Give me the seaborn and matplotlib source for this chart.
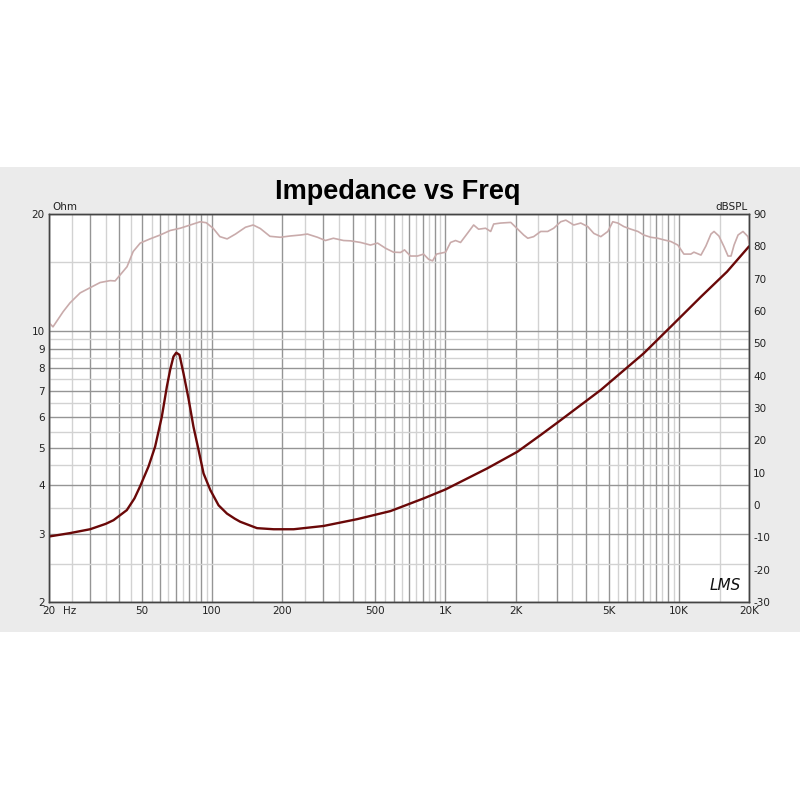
import numpy as np
import pandas as pd
import matplotlib
matplotlib.use('Agg')
import matplotlib.pyplot as plt
from matplotlib.patches import Rectangle
from matplotlib.ticker import FixedLocator, FuncFormatter, NullFormatter
import seaborn as sns

# --- data ---
imp_freq = [20, 24.6, 30, 35, 37.8, 43.1, 46.5, 49.2, 53.4, 57.0, 60.9, 64.0,
            66.1, 68.3, 70.2, 72.5, 75.4, 79.2, 83.2, 87.5, 91.9, 98.2,
            106.6, 115.8, 125, 132, 155.8, 183.6, 223.7, 300, 418.5, 581, 808,
            1000, 1511, 2036, 2561, 3020, 4634, 7080, 9247, 12450, 16100, 20000]
imp_ohm = [2.95, 3.01, 3.08, 3.18, 3.25, 3.45, 3.7, 3.98, 4.47, 5.03, 6.01, 7.18,
           7.93, 8.58, 8.78, 8.67, 7.77, 6.7, 5.66, 4.93, 4.29, 3.89,
           3.55, 3.38, 3.28, 3.22, 3.10, 3.08, 3.08, 3.14, 3.27, 3.43, 3.70,
           3.90, 4.42, 4.88, 5.39, 5.8, 7.04, 8.75, 10.25, 12.24, 14.2, 16.5]

spl_freq = [20, 20.8, 23, 24.6, 27.2, 30, 33.1, 36.6, 38.4, 40.3, 43.2, 45.9,
            49.2, 54.2, 59.9, 66.1, 73, 80.6, 88.9, 94.4, 101, 108, 116, 126,
            139, 150, 161, 177, 196, 216, 239, 256, 283, 306, 331, 366, 392,
            433, 477, 512, 554, 599, 642, 668, 708, 759, 806, 847, 881, 916,
            1002, 1052, 1105, 1161, 1245, 1321, 1387, 1486, 1563, 1610, 1725,
            1906, 2042, 2165, 2254, 2389, 2560, 2743, 2911, 3120, 3281, 3548,
            3802, 4074, 4325, 4634, 4966, 5213, 5482, 5821, 6237, 6683, 7080,
            7587, 8130, 8630, 9247, 9908, 10520, 11270, 11610, 12450, 13070,
            13740, 14160, 14860, 15630, 16260, 16750, 17260, 17950, 18850,
            19800, 20000]
spl_db = [56.4, 55.1, 59.8, 62.5, 65.6, 67.2, 68.8, 69.4, 69.3, 71.1, 73.7, 78.4,
          81, 82.3, 83.5, 84.9, 85.6, 86.6, 87.6, 87.3, 85.6, 83, 82.3, 83.8,
          85.9, 86.6, 85.5, 83.1, 82.8, 83.2, 83.5, 83.8, 82.8, 81.8, 82.5,
          81.8, 81.7, 81.2, 80.4, 81, 79.4, 78.2, 78.1, 78.9, 77, 77, 77.6,
          76, 75.5, 77.6, 78.2, 81.2, 81.8, 81.2, 84.1, 86.6, 85.3, 85.6, 84.6,
          86.9, 87.2, 87.4, 85.3, 83.5, 82.5, 83, 84.6, 84.6, 85.6, 87.6, 88.1,
          86.6, 87.2, 86.1, 84, 83, 84.6, 87.6, 87.2, 86.1, 85.3, 84.6, 83.5,
          82.8, 82.5, 82, 81.5, 80.4, 77.6, 77.6, 78.2, 77.3, 80.1, 83.8, 84.6,
          83.2, 79.9, 77, 77, 80.4, 83.5, 84.6, 83, 81]

x_labels = {20: '20', 50: '50', 100: '100', 200: '200', 500: '500',
            1000: '1K', 2000: '2K', 5000: '5K', 10000: '10K', 20000: '20K'}
ohm_ticks = [2, 3, 4, 5, 6, 7, 8, 9, 10, 20]
db_ticks = list(range(-30, 100, 10))

# grid positions
x_dark = ([f for f in range(20, 101, 10)] + [f for f in range(200, 1001, 100)]
          + [f for f in range(2000, 10001, 1000)] + [20000])
x_light = ([f for f in range(25, 100, 10)] + [150] + [f for f in range(250, 1000, 100)]
           + [1500] + [f for f in range(2500, 10000, 1000)] + [15000])
y_light = [v / 2 for v in range(5, 20, 2)] + [15]

imp_df = pd.DataFrame({'freq': imp_freq, 'ohm': imp_ohm})
spl_df = pd.DataFrame({'freq': spl_freq, 'db': spl_db})

sns.set_style('white')
plt.rcParams['font.family'] = ['DejaVu Sans']
plt.rcParams['axes.unicode_minus'] = False

fig = plt.figure(figsize=(8, 8), dpi=100, facecolor='white')
band = Rectangle((0, 1 - 632 / 800), 1, 465 / 800, transform=fig.transFigure,
                 facecolor='#ebebeb', edgecolor='none', zorder=-10)
fig.add_artist(band)

ax = fig.add_axes([49 / 800, 198 / 800, 700 / 800, 388 / 800])
ax.set_facecolor('white')
ax.set_xscale('log')
ax.set_yscale('log')

sns.lineplot(data=imp_df, x='freq', y='ohm', ax=ax, color='#6a0808', linewidth=1.7, zorder=5)
ax.set_xlabel('')
ax.set_ylabel('')

ax2 = ax.twinx()
sns.lineplot(data=spl_df, x='freq', y='db', ax=ax2, color='#c9abab', linewidth=1.2)
ax2.set_ylim(-30, 90)
ax2.set_yticks(db_ticks)
ax2.yaxis.set_major_formatter(FuncFormatter(lambda v, p: '%d' % v))
ax2.set_ylabel('')
ax2.grid(False)
ax2.tick_params(length=0, labelsize=7.5, colors='#222222', pad=3)

ax.set_xlim(20, 20000)
ax.set_ylim(2, 20)
ax.xaxis.set_major_locator(FixedLocator(x_dark))
ax.xaxis.set_minor_locator(FixedLocator(x_light))
ax.xaxis.set_major_formatter(FuncFormatter(lambda v, p: x_labels.get(int(round(v)), '')))
ax.xaxis.set_minor_formatter(NullFormatter())
ax.yaxis.set_major_locator(FixedLocator(ohm_ticks))
ax.yaxis.set_minor_locator(FixedLocator(y_light))
ax.yaxis.set_major_formatter(FuncFormatter(lambda v, p: '%d' % v))
ax.yaxis.set_minor_formatter(NullFormatter())

ax.grid(which='major', color='#959595', linewidth=1.0)
ax.grid(which='minor', color='#d2d2d2', linewidth=1.0)
ax.set_axisbelow(True)
ax.tick_params(which='both', length=0, labelsize=7.5, colors='#222222')
ax.tick_params(axis='x', pad=3)
ax.tick_params(axis='y', pad=3)

for a in (ax, ax2):
    for s in a.spines.values():
        s.set_color('#444444')
        s.set_linewidth(1.0)

ax.annotate('Hz', xy=(20, 2), xycoords='data', xytext=(10, -3.2),
            textcoords='offset points', ha='left', va='top', fontsize=7.5, color='#222222')
fig.text(52 / 800, 1 - 210 / 800, 'Ohm', fontsize=7.5, color='#222222', va='baseline')
fig.text(748 / 800, 1 - 210 / 800, 'dBSPL', fontsize=7.5, color='#222222',
         va='baseline', ha='right')
fig.text(398 / 800, 1 - 199 / 800, 'Impedance vs Freq', fontsize=19.5, fontweight='bold',
         family=['Liberation Sans', 'DejaVu Sans'], ha='center', va='baseline', color='black')
fig.text(725 / 800, 1 - 585 / 800, 'LMS', fontsize=11, style='italic', fontweight='light',
         ha='center', va='center', color='#111111')

fig.savefig('out.png', dpi=100, facecolor=fig.get_facecolor())
